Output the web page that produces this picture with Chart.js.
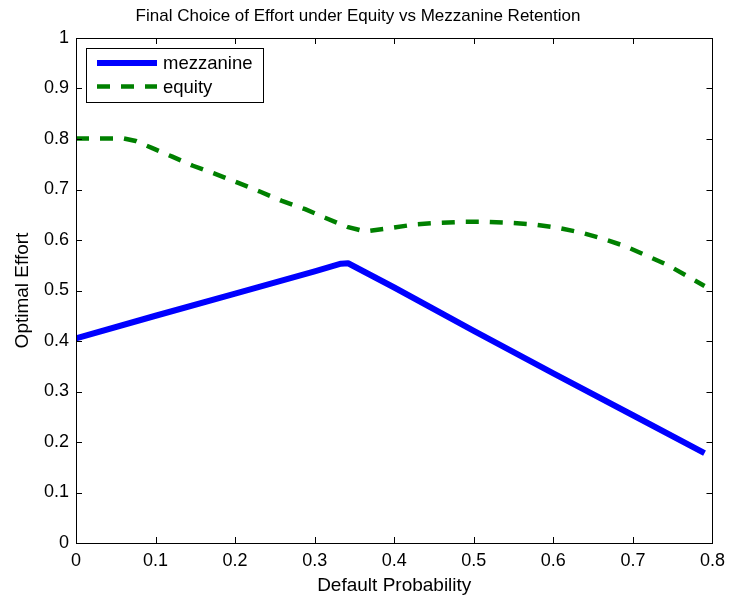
<!DOCTYPE html>
<html>
<head>
<meta charset="utf-8">
<script src="https://cdn.jsdelivr.net/npm/chart.js@4"></script>
<style>
  html, body { margin: 0; padding: 0; background: #fff; }
  canvas { display: block; }
</style>
</head>
<body>
<canvas id="effortChart" width="732" height="597"></canvas>
<script>
const xTicks = [0, 0.1, 0.2, 0.3, 0.4, 0.5, 0.6, 0.7, 0.8];
const yTicks = [0, 0.1, 0.2, 0.3, 0.4, 0.5, 0.6, 0.7, 0.8, 0.9, 1];

const mezzX = [0, 0.1, 0.2, 0.3, 0.333, 0.342, 0.4, 0.5, 0.6, 0.7, 0.79];
const mezzY = [0.405, 0.45, 0.494, 0.538, 0.553, 0.554, 0.506, 0.42, 0.336, 0.253, 0.178];

const eqX = [0, 0.06, 0.075, 0.096, 0.121, 0.147, 0.175, 0.204, 0.231, 0.258, 0.288, 0.313, 0.341, 0.363,
  0.397, 0.427, 0.456, 0.488, 0.516, 0.546, 0.575, 0.606, 0.634, 0.661, 0.69, 0.716, 0.744, 0.77, 0.79];
const eqY = [0.801, 0.801, 0.796, 0.782, 0.765, 0.747, 0.731, 0.713, 0.696, 0.678, 0.661, 0.644, 0.626, 0.617,
  0.624, 0.631, 0.634, 0.636, 0.636, 0.634, 0.631, 0.624, 0.615, 0.603, 0.588, 0.570, 0.550, 0.527, 0.509];

const FONT = '"Liberation Sans", Arial, Helvetica, sans-serif';

function toPoints(xs, ys) {
  return xs.map((x, i) => ({ x: x, y: ys[i] }));
}

// matlab style box with inward ticks on all four sides
const boxPlugin = {
  id: 'box',
  afterDatasetsDraw(chart) {
    const { ctx, chartArea: a, scales } = chart;
    const len = 6;
    ctx.save();
    ctx.strokeStyle = '#000';
    ctx.lineWidth = 1;
    ctx.beginPath();
    xTicks.forEach(v => {
      const px = Math.round(scales.x.getPixelForValue(v)) + 0.5;
      ctx.moveTo(px, a.bottom); ctx.lineTo(px, a.bottom - len);
      ctx.moveTo(px, a.top); ctx.lineTo(px, a.top + len);
    });
    yTicks.forEach(v => {
      const py = Math.round(scales.y.getPixelForValue(v)) + 0.5;
      ctx.moveTo(a.left, py); ctx.lineTo(a.left + len, py);
      ctx.moveTo(a.right, py); ctx.lineTo(a.right - len, py);
    });
    ctx.stroke();
    ctx.strokeRect(Math.round(a.left) + 0.5, Math.round(a.top) + 0.5,
      Math.round(a.right - a.left), Math.round(a.bottom - a.top));

    // legend inside the axes, top left
    const bx = a.left + 10, by = a.top + 10, bw = 177, bh = 54;
    ctx.fillStyle = '#fff';
    ctx.fillRect(bx, by, bw, bh);
    ctx.strokeRect(Math.round(bx) + 0.5, Math.round(by) + 0.5, bw, bh);
    ctx.font = '18.5px ' + FONT;
    ctx.textBaseline = 'middle';
    chart.data.datasets.forEach((ds, i) => {
      const ry = by + 15 + i * 23.5;
      ctx.strokeStyle = ds.borderColor;
      ctx.lineWidth = ds.borderWidth;
      ctx.setLineDash(ds.borderDash || []);
      ctx.beginPath();
      ctx.moveTo(bx + 11, ry); ctx.lineTo(bx + 71, ry);
      ctx.stroke();
      ctx.setLineDash([]);
      ctx.fillStyle = '#000';
      ctx.fillText(ds.label, bx + 77, ry + 1);
    });
    ctx.restore();
  }
};

new Chart(document.getElementById('effortChart'), {
  type: 'line',
  data: {
    datasets: [
      {
        label: 'mezzanine',
        data: toPoints(mezzX, mezzY),
        borderColor: '#0000ff',
        borderWidth: 6,
        pointRadius: 0,
        tension: 0,
        borderJoinStyle: 'round'
      },
      {
        label: 'equity',
        data: toPoints(eqX, eqY),
        borderColor: '#008000',
        borderWidth: 4.5,
        borderDash: [13, 11],
        pointRadius: 0,
        tension: 0
      }
    ]
  },
  options: {
    responsive: false,
    animation: false,
    devicePixelRatio: 1,
    layout: { padding: { left: 0, right: 16, top: 0, bottom: 0 } },
    plugins: {
      legend: { display: false },
      tooltip: { enabled: false },
      title: {
        display: true,
        text: 'Final Choice of Effort under Equity vs Mezzanine Retention',
        color: '#000',
        font: { family: FONT, size: 17, weight: 'normal' },
        padding: { top: 6, bottom: 11.6 }
      }
    },
    scales: {
      x: {
        type: 'linear',
        min: 0, max: 0.8,
        afterBuildTicks: s => { s.ticks = xTicks.map(v => ({ value: v })); },
        afterFit: s => { s.height = 54; },
        grid: { display: false, drawTicks: false },
        border: { display: false },
        ticks: {
          color: '#000', padding: 7,
          font: { family: FONT, size: 18 },
          callback: v => String(Number(v.toFixed(1)))
        },
        title: {
          display: true, text: 'Default Probability', color: '#000',
          font: { family: FONT, size: 19 }, padding: { top: 3, bottom: 0 }
        }
      },
      y: {
        type: 'linear',
        min: 0, max: 1,
        afterBuildTicks: s => { s.ticks = yTicks.map(v => ({ value: v })); },
        afterFit: s => { s.width = 76; },
        grid: { display: false, drawTicks: false },
        border: { display: false },
        ticks: {
          color: '#000', padding: 7,
          font: { family: FONT, size: 18 },
          callback: v => String(Number(v.toFixed(1)))
        },
        title: {
          display: true, text: 'Optimal Effort', color: '#000',
          font: { family: FONT, size: 19 }, padding: { top: 11, bottom: 0 }
        }
      }
    }
  },
  plugins: [boxPlugin]
});
</script>
</body>
</html>
